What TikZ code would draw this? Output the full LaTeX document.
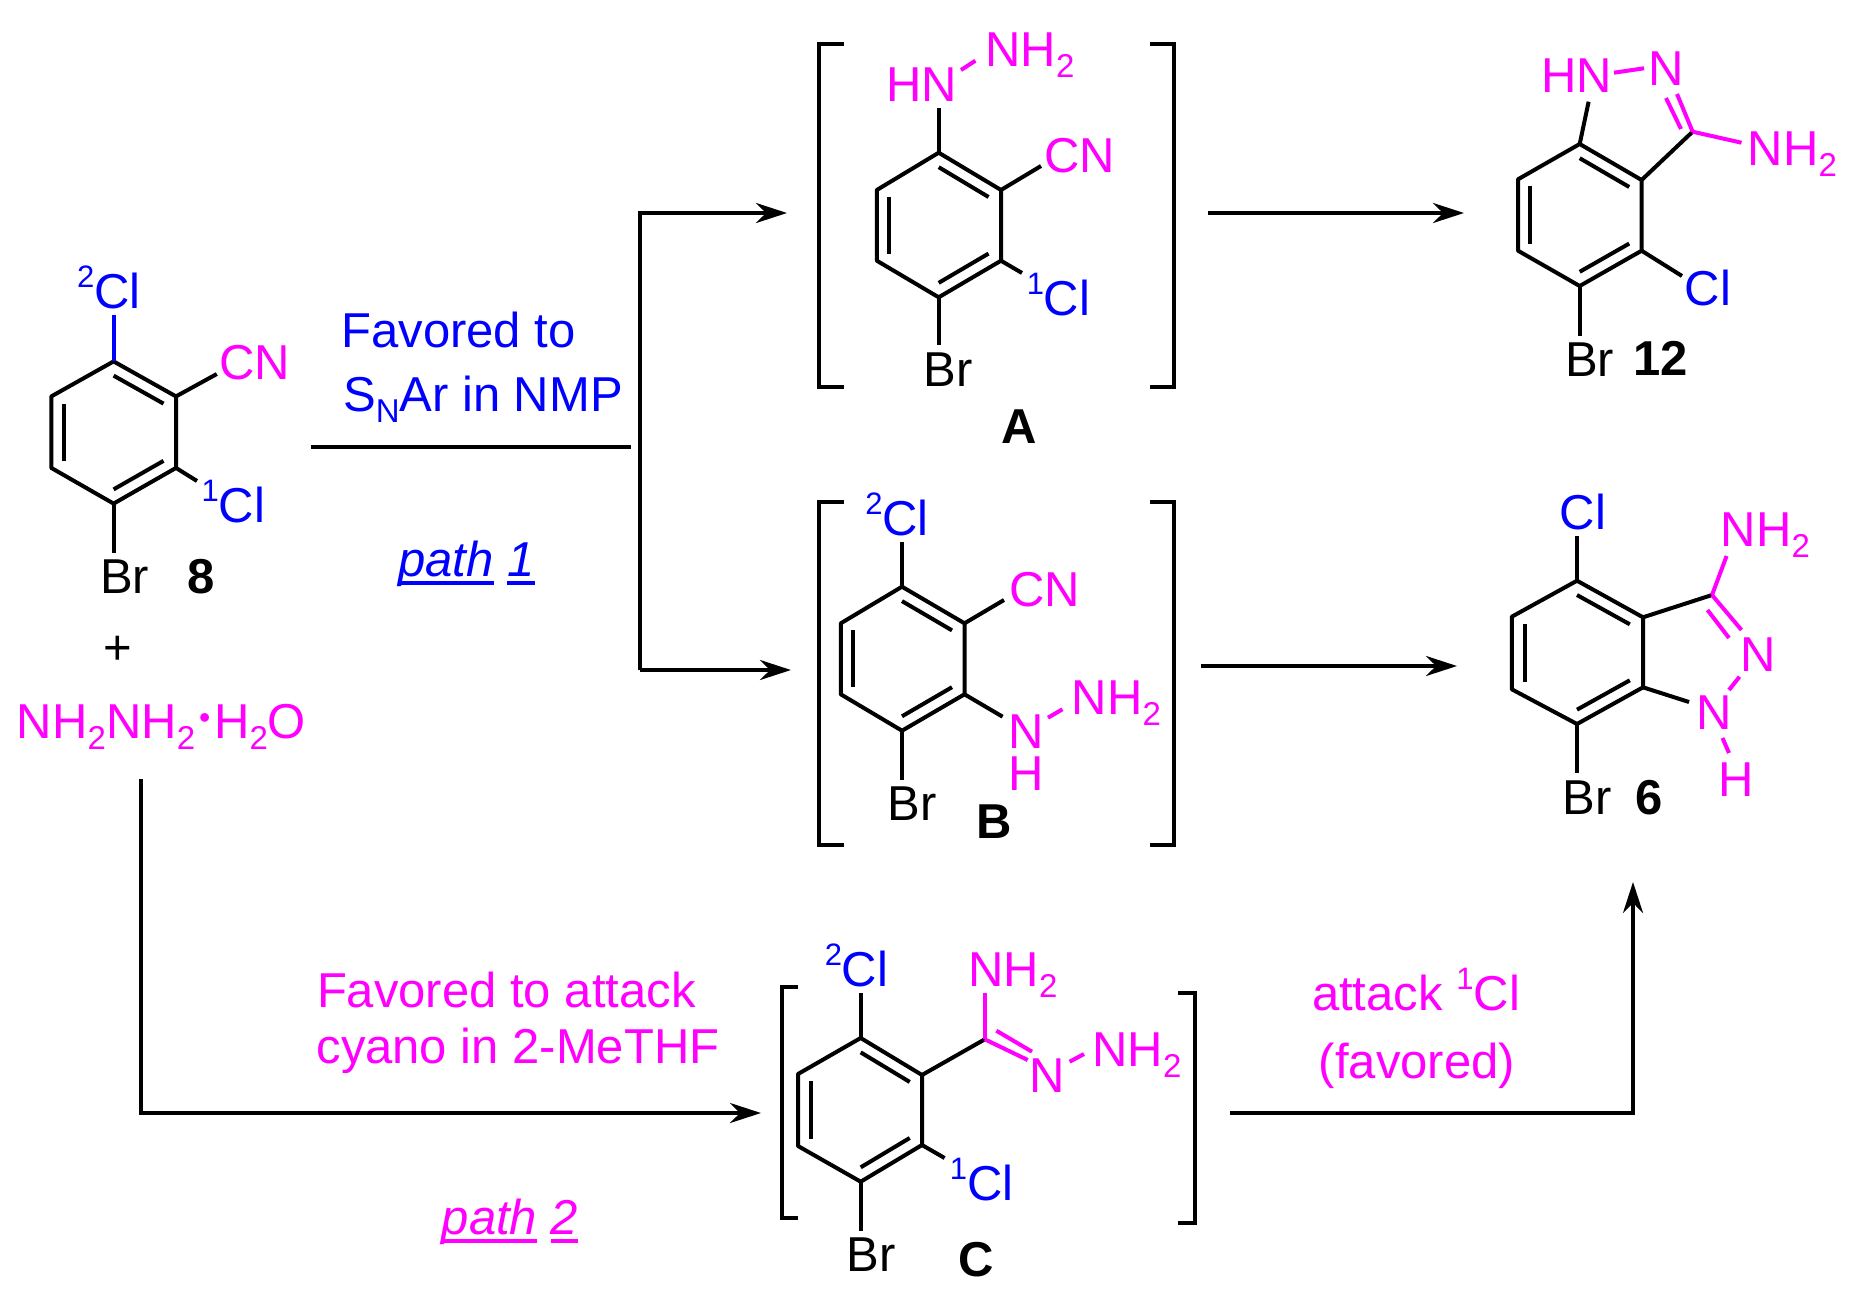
\documentclass[tikz,border=0pt]{standalone}
\usepackage{fontspec}
\setmainfont{Liberation Sans}
\usetikzlibrary{arrows.meta,calc}
\definecolor{hydmagenta}{RGB}{255,0,255}
\definecolor{chlblue}{RGB}{0,0,255}
\newcommand{\chemsub}[1]{\raisebox{-11pt}{\fontsize{33}{33}\selectfont #1}}
\newcommand{\chemsup}[1]{\raisebox{21pt}{\fontsize{31}{31}\selectfont #1}}
\newcommand{\ulined}[1]{\setbox0\hbox{\textit{#1}}\rlap{\rule[-8.5pt]{\wd0}{3.5pt}}\box0\relax}
\newcommand{\ringbonds}[1]{%
\coordinate (#1o) at ($(#1a)!.5!(#1d)$);
\draw[bond] (#1a)--(#1b)--(#1c)--(#1d)--(#1e)--(#1f)--cycle;
\draw[bond] ($(#1a)!.2!(#1o)$)--($(#1b)!.2!(#1o)$);
\draw[bond] ($(#1c)!.2!(#1o)$)--($(#1d)!.2!(#1o)$);
\draw[bond] ($(#1e)!.2!(#1o)$)--($(#1f)!.2!(#1o)$);}
\tikzset{
label8/.style={inner sep=0pt,anchor=base,font=\fontsize{49}{54}\selectfont},
clab/.style={label8,text=chlblue},
nlab/.style={label8,text=hydmagenta},
numlab/.style={label8,font=\fontsize{49}{54}\selectfont\bfseries},
bond/.style={line width=4pt,line join=round},
nbond/.style={bond,draw=hydmagenta},
elbow/.style={line width=4pt},
react/.style={elbow,-{Stealth[length=31pt,width=20pt]}},
bracket/.style={line width=4.2pt}}
\begin{document}
\begin{tikzpicture}[x=1pt,y=-1pt]
\useasboundingbox (0,0) rectangle (1866,1310);
% compound 8
\coordinate (ra) at (113.6,361.4);
\coordinate (rb) at (176,396.4);
\coordinate (rc) at (176,467.9);
\coordinate (rd) at (113.6,503.6);
\coordinate (re) at (51.3,467.9);
\coordinate (rf) at (51.3,396.4);
\ringbonds{r}
\node[clab] (cla) at (109,308) {\chemsup{2}Cl};
\node[nlab] (cna) at (254.5,379) {CN};
\node[clab] (clb) at (233.5,522) {\chemsup{1}Cl};
\node[label8] (bra) at (124.5,593.6) {Br};
\node[numlab] (num8) at (201.5,593.6) {8};
\node[label8] (plus) at (118,664) {+};
\node[nlab] (hydrazine) at (161.5,738) {NH\chemsub{2}NH\chemsub{2}\makebox[19pt][c]{\raisebox{10pt}{\fontsize{32}{32}\selectfont\textbullet}}H\chemsub{2}O};
\coordinate (racl) at (113.6,315);
\coordinate (rbcn) at (216.8,374);
\coordinate (rccl) at (197,481);
\coordinate (rdbr) at (113.6,552.5);
\path[bond] (rb) edge (rbcn) (rc) edge (rccl) (rd) edge (rdbr);
\path[bond,draw=chlblue] (ra) edge (racl);
% path 1
\node[clab] (favaa) at (458.5,347) {Favored to};
\node[clab] (favab) at (483,411) {S\chemsub{N}Ar in NMP};
\node[clab] (patha) at (466.5,576) {\ulined{path} \ulined{1}};
\coordinate (splita) at (311,447);
\coordinate (splitb) at (631,447);
\coordinate (splitt) at (640,213);
\coordinate (splitd) at (640,670);
\coordinate (arrA) at (787,213);
\coordinate (arrB) at (791,670);
\draw[elbow] (splita) -- (splitb);
\draw[react] (splitd) -- (splitt) -- (arrA);
\draw[react] (splitd) -- (arrB);
% intermediate A
\draw[bracket] (844,44) -| (819,387) -- (844,387);
\draw[bracket] (1150,44) -| (1174,387) -- (1150,387);
\coordinate (aa) at (938.7,152.7);
\coordinate (ab) at (1001,190);
\coordinate (ac) at (1001,260.7);
\coordinate (ad) at (938.7,297.3);
\coordinate (ae) at (876.8,260.7);
\coordinate (af) at (876.8,190);
\ringbonds{a}
\node[nlab] (hnA) at (921.4,101) {HN};
\node[nlab] (nhA) at (1030,66.7) {NH\chemsub{2}};
\node[nlab] (cnA) at (1079.5,172.7) {CN};
\node[clab] (clA) at (1058.5,315.7) {\chemsup{1}Cl};
\node[label8] (brA) at (948,386.7) {Br};
\node[numlab] (numA) at (1019.3,443) {A};
\coordinate (aahn) at (938.7,107.7);
\coordinate (abcn) at (1041,166);
\coordinate (accl) at (1022,273);
\coordinate (adbr) at (938.7,345);
\coordinate (hna) at (961,70);
\coordinate (hnb) at (975.4,60.7);
\path[bond] (aa) edge (aahn) (ab) edge (abcn) (ac) edge (accl) (ad) edge (adbr);
\path[nbond] (hna) edge (hnb);
% compound 12
\coordinate (arrCa) at (1208,213);
\coordinate (arrCb) at (1464,213);
\draw[react] (arrCa) -- (arrCb);
\coordinate (ta) at (1579.7,144);
\coordinate (tb) at (1641.6,180);
\coordinate (tc) at (1641.6,250.7);
\coordinate (td) at (1579.7,286);
\coordinate (te) at (1518,250.7);
\coordinate (tf) at (1518,179.3);
\ringbonds{t}
\node[nlab] (hnT) at (1576.5,92.7) {HN};
\node[nlab] (nT) at (1666.5,85) {N};
\node[nlab] (nhT) at (1792.5,165) {NH\chemsub{2}};
\node[clab] (clT) at (1708,305.7) {Cl};
\node[label8] (brT) at (1589.5,376.7) {Br};
\node[numlab] (numT) at (1660.7,375) {12};
\coordinate (tahn) at (1588.6,101.7);
\coordinate (tcc) at (1692.6,131.7);
\coordinate (tdcn) at (1741.5,142.7);
\coordinate (tnn) at (1677,94);
\coordinate (tia) at (1681,129);
\coordinate (tib) at (1666,98);
\coordinate (tna) at (1614,72.7);
\coordinate (tnb) at (1644,68.3);
\coordinate (tccl) at (1682,276);
\coordinate (tdbr) at (1579.7,336);
\path[bond] (ta) edge (tahn) (tb) edge (tcc) (tc) edge (tccl) (td) edge (tdbr);
\path[nbond] (tcc) edge (tdcn) (tcc) edge (tnn) (tia) edge (tib) (tna) edge (tnb);
% intermediate B
\draw[bracket] (844,502) -| (819,845) -- (844,845);
\draw[bracket] (1150,502) -| (1174,845) -- (1150,845);
\coordinate (ba) at (902,586.7);
\coordinate (bb) at (964.5,623.3);
\coordinate (bc) at (964.5,694.3);
\coordinate (bd) at (902,730.7);
\coordinate (be) at (840.8,694.3);
\coordinate (bf) at (840.8,623.3);
\ringbonds{b}
\node[clab] (clB) at (897,535) {\chemsup{2}Cl};
\node[nlab] (cnB) at (1044.5,606.7) {CN};
\node[nlab] (nB) at (1026.4,748.7) {N};
\node[nlab] (hB) at (1026.4,790) {H};
\node[nlab] (nhB) at (1116.5,714) {NH\chemsub{2}};
\node[label8] (brB) at (912,820.7) {Br};
\node[numlab] (numB) at (993.7,838) {B};
\coordinate (bacl) at (902,541.7);
\coordinate (bbcn) at (1004,600);
\coordinate (bcn) at (1002.6,716.7);
\coordinate (bna) at (1048,717.7);
\coordinate (bnb) at (1062.4,709.3);
\coordinate (bdbr) at (902,780);
\path[bond] (ba) edge (bacl) (bb) edge (bbcn) (bc) edge (bcn) (bd) edge (bdbr);
\path[nbond] (bna) edge (bnb);
% compound 6
\coordinate (arrDa) at (1201,666);
\coordinate (arrDb) at (1457,666);
\draw[react] (arrDa) -- (arrDb);
\coordinate (sa) at (1577,580.7);
\coordinate (sb) at (1643,617.3);
\coordinate (sc) at (1643,687.3);
\coordinate (sd) at (1577,724);
\coordinate (se) at (1511.8,689.3);
\coordinate (sf) at (1511.8,616.7);
\ringbonds{s}
\node[clab] (clS) at (1583,529) {Cl};
\node[nlab] (nhS) at (1765.5,546.7) {NH\chemsub{2}};
\node[nlab] (naS) at (1758.5,671) {N};
\node[nlab] (nbS) at (1714.4,729) {N};
\node[nlab] (hS) at (1736.5,796.7) {H};
\node[label8] (brS) at (1587,814) {Br};
\node[numlab] (numS) at (1648.7,814) {6};
\coordinate (sacl) at (1577,536);
\coordinate (scc) at (1712,595);
\coordinate (snh) at (1726.6,556);
\coordinate (snn) at (1741.5,630);
\coordinate (sia) at (1707.5,610);
\coordinate (sib) at (1729,638);
\coordinate (sna) at (1739.5,676.7);
\coordinate (snb) at (1729,690);
\coordinate (scn) at (1689,702);
\coordinate (sha) at (1722.5,738);
\coordinate (shb) at (1729,753);
\coordinate (sdbr) at (1577,772.7);
\path[bond] (sa) edge (sacl) (sb) edge (scc) (sc) edge (scn) (sd) edge (sdbr);
\path[nbond] (scc) edge (snh) (scc) edge (snn) (sia) edge (sib) (sna) edge (snb) (sha) edge (shb);
% path 2
\node[nlab] (favca) at (506.3,1007) {Favored to attack};
\node[nlab] (favcb) at (518,1063) {cyano in 2-MeTHF};
\node[nlab] (pathb) at (510,1234) {\ulined{path} \ulined{2}};
\coordinate (hyda) at (141,779);
\coordinate (hydb) at (141,1113);
\coordinate (arrC) at (761,1113);
\draw[react] (hyda) -- (hydb) -- (arrC);
% intermediate C
\draw[bracket] (798,987) -| (782,1218) -- (798,1218);
\draw[bracket] (1178,993) -| (1195,1223) -- (1178,1223);
\coordinate (ca) at (860.7,1038);
\coordinate (cb) at (922,1075);
\coordinate (cc) at (922,1145);
\coordinate (cd) at (860.7,1181.7);
\coordinate (ce) at (798,1146);
\coordinate (cf) at (798,1074);
\ringbonds{c}
\node[clab] (clC) at (856.5,986.7) {\chemsup{2}Cl};
\node[nlab] (nhC) at (1013,986) {NH\chemsub{2}};
\node[nlab] (nC) at (1047.4,1092.7) {N};
\node[nlab] (nnC) at (1137,1066.7) {NH\chemsub{2}};
\node[clab] (cbC) at (981.7,1200.7) {\chemsup{1}Cl};
\node[label8] (brC) at (871.4,1271.7) {Br};
\node[numlab] (numC) at (976.3,1276.7) {C};
\coordinate (cacl) at (860.7,993);
\coordinate (cex) at (984.8,1039.3);
\coordinate (cnh) at (984.8,993);
\coordinate (cnn) at (1027.7,1060);
\coordinate (cia) at (996.4,1030.7);
\coordinate (cib) at (1032,1051.7);
\coordinate (cna) at (1069.6,1061.7);
\coordinate (cnb) at (1084,1054);
\coordinate (cccl) at (944.6,1158);
\coordinate (cdbr) at (860.7,1230.7);
\path[bond] (ca) edge (cacl) (cb) edge (cex) (cc) edge (cccl) (cd) edge (cdbr);
\path[nbond] (cex) edge (cnh) (cex) edge (cnn) (cia) edge (cib) (cna) edge (cnb);
% attack on 1Cl
\node[nlab] (attack) at (1416,1010) {attack \chemsup{1}Cl};
\node[nlab] (favored) at (1417,1078) {(favored)};
\coordinate (arrEa) at (1230,1113);
\coordinate (arrEb) at (1633,1113);
\coordinate (arrEc) at (1633,882);
\draw[react] (arrEa) -- (arrEb) -- (arrEc);
\end{tikzpicture}
\end{document}
